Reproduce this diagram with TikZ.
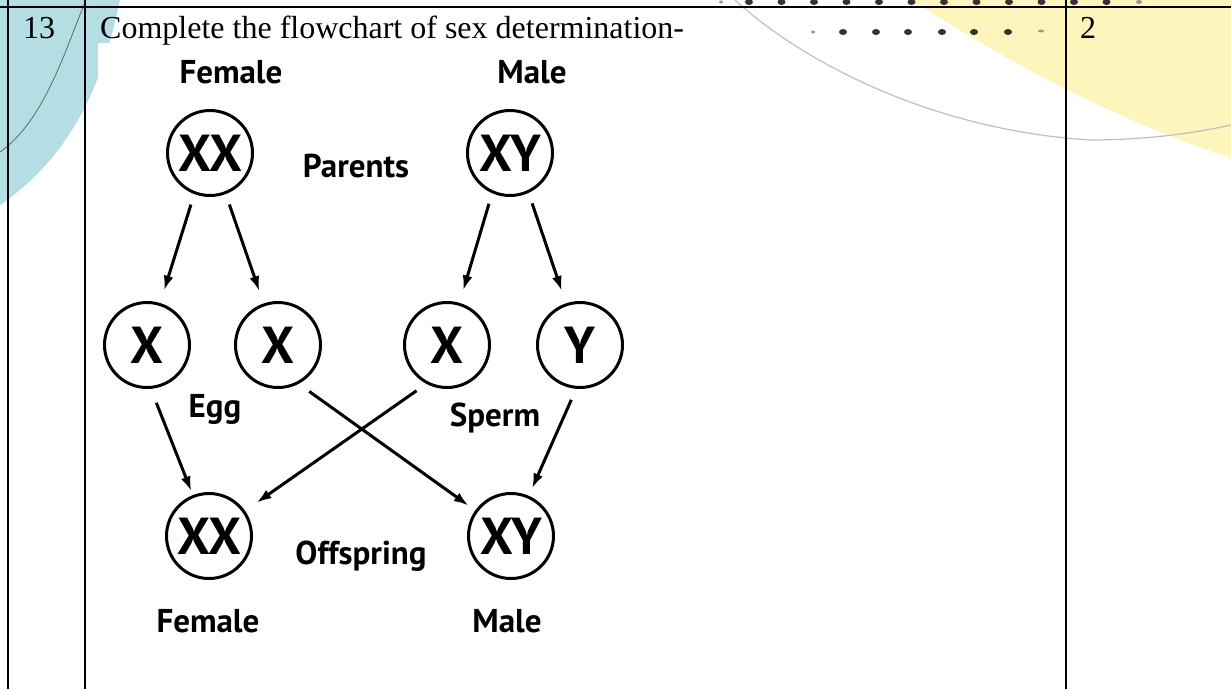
\documentclass[tikz,border=0pt]{standalone}
\usepackage{fontspec}
\setmainfont{Liberation Serif}
\newfontfamily\dgfont{PT Sans}
\usetikzlibrary{arrows.meta}

\definecolor{tealbg}{RGB}{180,222,228}
\definecolor{yellowbg}{RGB}{253,245,188}

\tikzset{gene/.style={circle, draw, line width=3pt, minimum size=85pt, inner sep=0pt,
    font=\dgfont\bfseries\fontsize{52}{52}\selectfont}}
\tikzset{lbl/.style={anchor=base, inner sep=0pt, font=\dgfont\bfseries\fontsize{33}{33}\selectfont}}
\tikzset{arr/.style={line width=3pt, -{Latex[length=15pt,width=10pt]}}}
\tikzset{rule/.style={line width=2.6pt}}
\tikzset{cell/.style={anchor=base west, inner sep=0pt, font=\fontsize{32}{38}\selectfont}}
\tikzset{dot/.style={fill=black!80}}

\begin{document}
\begin{tikzpicture}[x=1pt,y=-1pt]
  \clip (0,0) rectangle (1231,689);
  \fill[white] (0,0) rectangle (1231,689);

  % page decoration
  \fill[tealbg] (0,0) -- (120,0) .. controls (105,70) and (80,150) .. (0,205) -- cycle;
  \draw[black!60, line width=0.8pt] (86,0) .. controls (65,50) and (45,120) .. (0,152);
  \fill[yellowbg] (912,0) .. controls (980,45) and (1100,115) .. (1231,158) -- (1231,0) -- cycle;
  \draw[black!25, line width=1.2pt] (735,0) .. controls (800,60) and (930,130) .. (1090,140)
    .. controls (1150,140) and (1200,132) .. (1231,125);
  \foreach \i in {0,...,11}
    \fill[dot] (749+32.5*\i,2) ellipse (4 and 3);
  \fill[black!40] (721,2) ellipse (2 and 1.5);
  \fill[black!40] (1139,2) ellipse (3 and 2);
  \foreach \x in {843,876,908,942,974,1008}
    \fill[dot] (\x,32) ellipse (4 and 3);
  \fill[black!40] (813,32) ellipse (2 and 1.5);
  \fill[black!40] (1041,31) ellipse (3 and 1.5);

  \fill[white] (98,43) rectangle (700,660);

  % table
  \draw[rule] (0,7) -- (1231,7);
  \foreach \x in {8,85,1066}
    \draw[rule] (\x,0) -- (\x,689);
  \node[cell] (qno) at (23,38) {13};
  \node[cell] (qtext) at (100,38) {Complete the flowchart of sex determination-};
  \node[cell] (marks) at (1080,38) {2};

  % parents
  \node[gene] (pf) at (210,153) {XX};
  \node[gene] (pm) at (510,153) {XY};
  \node[lbl] (tf) at (231,83) {Female};
  \node[lbl] (tm) at (532,83) {Male};
  \node[lbl] (tp) at (356,177) {Parents};

  % gametes
  \node[gene] (e1) at (147,345) {X};
  \node[gene] (e2) at (278,345) {X};
  \node[gene] (s1) at (447,345) {X};
  \node[gene] (s2) at (580,345) {Y};
  \node[lbl] (te) at (215,417) {Egg};
  \node[lbl] (ts) at (495,426) {Sperm};

  % offspring
  \node[gene] (of) at (209,536) {XX};
  \node[gene] (om) at (511,536) {XY};
  \node[lbl] (to) at (361,564) {Offspring};
  \node[lbl] (bf) at (208,632) {Female};
  \node[lbl] (bm) at (507,632) {Male};

  \draw[arr, shorten <=11pt, shorten >=13pt] (pf.-111) -- (e1);
  \draw[arr, shorten <=11pt, shorten >=13pt] (pf.-69) -- (e2);
  \draw[arr, shorten <=11pt, shorten >=13pt] (pm.-114) -- (s1);
  \draw[arr, shorten <=11pt, shorten >=13pt] (pm.-65) -- (s2);

  \draw[arr, shorten <=15pt, shorten >=4pt] (e1.-85) -- (of);
  \draw[arr, shorten <=13pt, shorten >=8pt] (e2.-62) -- (om);
  \draw[arr, shorten <=12pt, shorten >=14pt] (s1.-118) -- (of);
  \draw[arr, shorten <=12pt, shorten >=8pt] (s2.-95) -- (om);
\end{tikzpicture}
\end{document}
